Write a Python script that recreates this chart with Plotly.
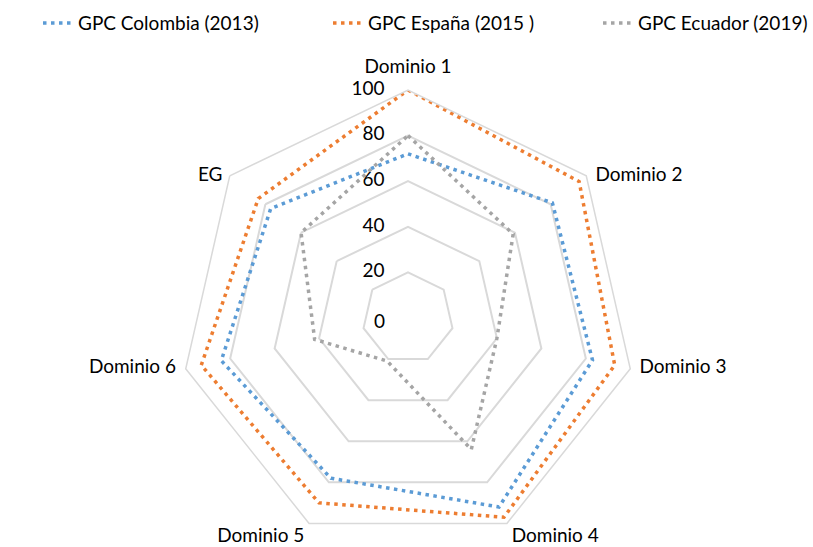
import plotly.graph_objects as go

categories = ["Dominio 1", "Dominio 2", "Dominio 3", "Dominio 4", "Dominio 5", "Dominio 6", "EG"]
colombia = [72, 81, 83, 92, 78, 84, 77]
espana = [100, 96, 93, 97, 90, 93, 84]
ecuador = [80, 59, 40, 64, 21, 42, 60]
series_names = ["GPC Colombia (2013)", "GPC España (2015 )", "GPC Ecuador (2019)"]
series_values = [colombia, espana, ecuador]
colors = ["#5B9BD5", "#ED7D31", "#A5A5A5"]
radial_ticks = [0, 20, 40, 60, 80, 100]
radial_tick_labels = ["0", "20", "40", "60", "80", "100"]

# styling of the category labels (placement relative to the outer vertex)
cat_label_pos = ["top center", "middle right", "middle right", "bottom right",
                 "bottom left", "middle left", "middle left"]
cat_label_gap = [18, 13, 13, 6, 6, 14, 10]

FONT = "Lato"
FS = 19
W, H = 813, 547
legend_ids = ["legend", "legend2", "legend3"]
legend_x_px = [38, 328, 598]

fig = go.Figure()
for name, vals, col, lg in zip(series_names, series_values, colors, legend_ids):
    fig.add_trace(go.Scatterpolar(
        r=vals + [vals[0]],
        theta=categories + [categories[0]],
        mode="lines",
        name=name,
        legend=lg,
        line=dict(color=col, width=3.5, dash="3.5px,4.5px"),
        hoverinfo="skip",
    ))

# radial tick labels on the first axis (rings 20..100)
fig.add_trace(go.Scatterpolar(
    r=radial_ticks[1:],
    theta=[categories[0]] * (len(radial_ticks) - 1),
    mode="markers+text",
    text=radial_tick_labels[1:],
    textposition="middle left",
    marker=dict(size=36, color="rgba(0,0,0,0)"),
    textfont=dict(size=FS, family=FONT, color="#000000"),
    cliponaxis=False, showlegend=False, hoverinfo="skip",
))

# category labels at the outer ring
fig.add_trace(go.Scatterpolar(
    r=[radial_ticks[-1]] * len(categories),
    theta=categories,
    mode="markers+text",
    text=categories,
    textposition=cat_label_pos,
    marker=dict(size=cat_label_gap, color="rgba(0,0,0,0)"),
    textfont=dict(size=FS, family=FONT, color="#000000"),
    cliponaxis=False, showlegend=False, hoverinfo="skip",
))

R = 228
cx, cy = 408, 318

legend_common = dict(orientation="h", y=0.9925, xanchor="left", yanchor="top",
                     font=dict(size=FS, family=FONT, color="#000000"),
                     bgcolor="rgba(0,0,0,0)")
layout_legends = {}
for lg, xp in zip(legend_ids, legend_x_px):
    layout_legends[lg] = dict(legend_common, x=xp / W)

fig.update_layout(
    width=W, height=H,
    margin=dict(l=0, r=0, t=0, b=0, autoexpand=False),
    paper_bgcolor="white",
    font=dict(family=FONT, color="#000000"),
    showlegend=True,
    polar=dict(
        domain=dict(x=[(cx - R) / W, (cx + R) / W], y=[(H - cy - R) / H, (H - cy + R) / H]),
        gridshape="linear",
        bgcolor="white",
        angularaxis=dict(direction="clockwise", rotation=90, showgrid=False,
                         showline=True, linecolor="#d9d9d9", linewidth=1.5,
                         ticks="", showticklabels=False),
        radialaxis=dict(range=[0, 100], tickvals=radial_ticks, showline=False, ticks="",
                        showticklabels=False,
                        gridcolor="#d9d9d9", gridwidth=1.5, angle=90),
    ),
    # label of the centre ring value (0), anchored at the polar centre
    annotations=[dict(text=radial_tick_labels[0], xref="paper", yref="paper",
                      x=cx / W, y=(H - cy) / H, xanchor="right", yanchor="middle",
                      xshift=-21, yshift=-2, showarrow=False,
                      font=dict(size=FS, family=FONT, color="#000000"))],
    **layout_legends,
)

fig.write_html("out.html", config={"displayModeBar": False},
               post_script="document.body.style.margin='0px';")
